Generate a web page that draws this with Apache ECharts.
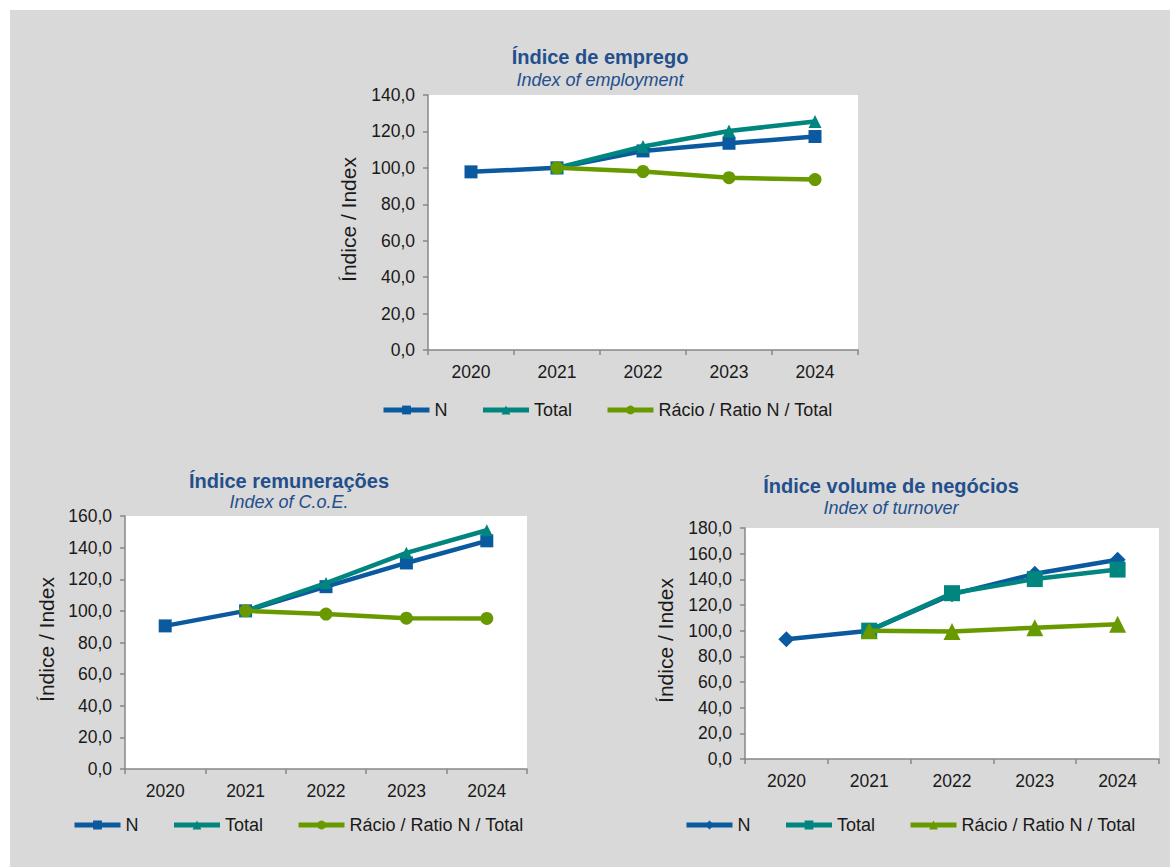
<!DOCTYPE html>
<html>
<head>
<meta charset="utf-8">
<script src="https://cdn.jsdelivr.net/npm/echarts@6/dist/echarts.min.js"></script>
<style>
  html, body { margin: 0; padding: 0; background: #fff; }
  #chart { width: 1170px; height: 867px; }
</style>
</head>
<body>
<div id="chart"></div>
<script>
// dados
const years = ['2020', '2021', '2022', '2023', '2024']

const empN = [97.8, 100, 109.3, 113.5, 117.2]
const empTotal = [null, 100, 111.7, 120.2, 125.5]
const empRatio = [null, 100, 98.0, 94.6, 93.6]

const coeN = [90.5, 100, 115.3, 130.3, 144.3]
const coeTotal = [null, 100, 117.6, 136.7, 151.0]
const coeRatio = [null, 100, 98.0, 95.4, 95.2]

const turnN = [93.3, 100, 128.3, 144.3, 155.2]
const turnTotal = [null, 100, 129.2, 140.2, 147.6]
const turnRatio = [null, 100, 99.3, 102.3, 105.0]

const empTicks = { max: 140, step: 20 }
const coeTicks = { max: 160, step: 20 }
const turnTicks = { max: 180, step: 20 }

const seriesNames = ['N', 'Total', 'Rácio / Ratio N / Total']

const BLUE = '#0b5a9f'
const TEAL = '#00857f'
const GREEN = '#689a00'
const TITLE = '#234f8c'
const AXIS = '#878787'
const FONT = '"Liberation Sans", Arial, sans-serif'

const chart = echarts.init(document.getElementById('chart'), null, { renderer: 'svg' })

// cada painel: grelha, eixos e títulos
const panels = [
  {
    grid: { left: 428, top: 95, width: 430, height: 255 },
    ticks: empTicks,
    data: [empN, empTotal, empRatio],
    symbols: [['rect', 13], ['triangle', 13], ['circle', 13]],
    title: 'Índice de emprego', sub: 'Index of employment',
    titleX: 600, titleY: 57, subY: 80,
    nameX: 348, legend: { left: 381, top: 401 },
  },
  {
    grid: { left: 125, top: 516, width: 402, height: 253 },
    ticks: coeTicks,
    data: [coeN, coeTotal, coeRatio],
    symbols: [['rect', 13], ['triangle', 12], ['circle', 13]],
    title: 'Índice remunerações', sub: 'Index of C.o.E.',
    titleX: 289, titleY: 481, subY: 502,
    nameX: 46, legend: { left: 72, top: 816 },
  },
  {
    grid: { left: 745, top: 528, width: 414, height: 231 },
    ticks: turnTicks,
    data: [turnN, turnTotal, turnRatio],
    symbols: [['diamond', 16], ['rect', 16], ['triangle', 17]],
    title: 'Índice volume de negócios', sub: 'Index of turnover',
    titleX: 891, titleY: 486, subY: 508,
    nameX: 665, legend: { left: 684, top: 816 },
  },
]

const colors = [BLUE, TEAL, GREEN]

const grid = []
const xAxis = []
const yAxis = []
const series = []
const legend = []
const graphic = [
  { type: 'rect', shape: { x: 10, y: 10, width: 1160, height: 857 }, style: { fill: '#d9d9d9' }, z: -10 },
]

panels.forEach((p, i) => {
  grid.push({ ...p.grid, show: true, backgroundColor: '#fff', borderWidth: 0 })
  xAxis.push({
    type: 'category',
    gridIndex: i,
    data: years,
    boundaryGap: true,
    axisLine: { lineStyle: { color: AXIS, width: 1.5 } },
    axisTick: { show: true, length: 5, lineStyle: { color: AXIS, width: 1.5 } },
    axisLabel: { color: '#1a1a1a', fontSize: 17.5, fontFamily: FONT, margin: 13 },
  })
  yAxis.push({
    type: 'value',
    gridIndex: i,
    min: 0,
    max: p.ticks.max,
    interval: p.ticks.step,
    splitLine: { show: false },
    axisLine: { show: true, lineStyle: { color: AXIS, width: 1.5 } },
    axisTick: { show: true, length: 5, lineStyle: { color: AXIS, width: 1.5 } },
    axisLabel: {
      color: '#1a1a1a', fontSize: 17.5, fontFamily: FONT, margin: 13,
      formatter: v => v.toFixed(1).replace('.', ','),
    },
  })
  const names = seriesNames.map(n => n + '#' + i)
  p.data.forEach((vals, k) => {
    series.push({
      name: names[k],
      type: 'line',
      xAxisIndex: i,
      yAxisIndex: i,
      data: vals,
      symbol: p.symbols[k][0],
      symbolSize: p.symbols[k][1],
      showAllSymbol: true,
      connectNulls: false,
      itemStyle: { color: colors[k] },
      lineStyle: { color: colors[k], width: 4.5 },
      z: 2 + k,
    })
  })
  legend.push({
    data: names,
    left: p.legend.left,
    top: p.legend.top,
    padding: 0,
    itemGap: 33,
    itemWidth: 46,
    itemHeight: 11,
    lineStyle: { width: 5 },
    formatter: n => n.split('#')[0],
    textStyle: { color: '#1a1a1a', fontSize: 18, fontFamily: FONT },
  })
  graphic.push(
    {
      type: 'text', x: p.titleX, y: p.titleY,
      style: { text: p.title, fill: TITLE, font: 'bold 20px ' + FONT, textAlign: 'center', textVerticalAlign: 'middle' },
    },
    {
      type: 'text', x: p.titleX, y: p.subY,
      style: { text: p.sub, fill: TITLE, font: 'italic 18px ' + FONT, textAlign: 'center', textVerticalAlign: 'middle' },
    },
    {
      type: 'text', x: p.nameX, y: p.grid.top + p.grid.height / 2 - 3, rotation: Math.PI / 2,
      style: { text: 'Índice / Index', fill: '#1a1a1a', font: '21px ' + FONT, textAlign: 'center', textVerticalAlign: 'middle' },
    }
  )
})

chart.setOption({
  backgroundColor: '#fff',
  animation: false,
  grid, xAxis, yAxis, series, legend, graphic,
})
</script>
</body>
</html>
